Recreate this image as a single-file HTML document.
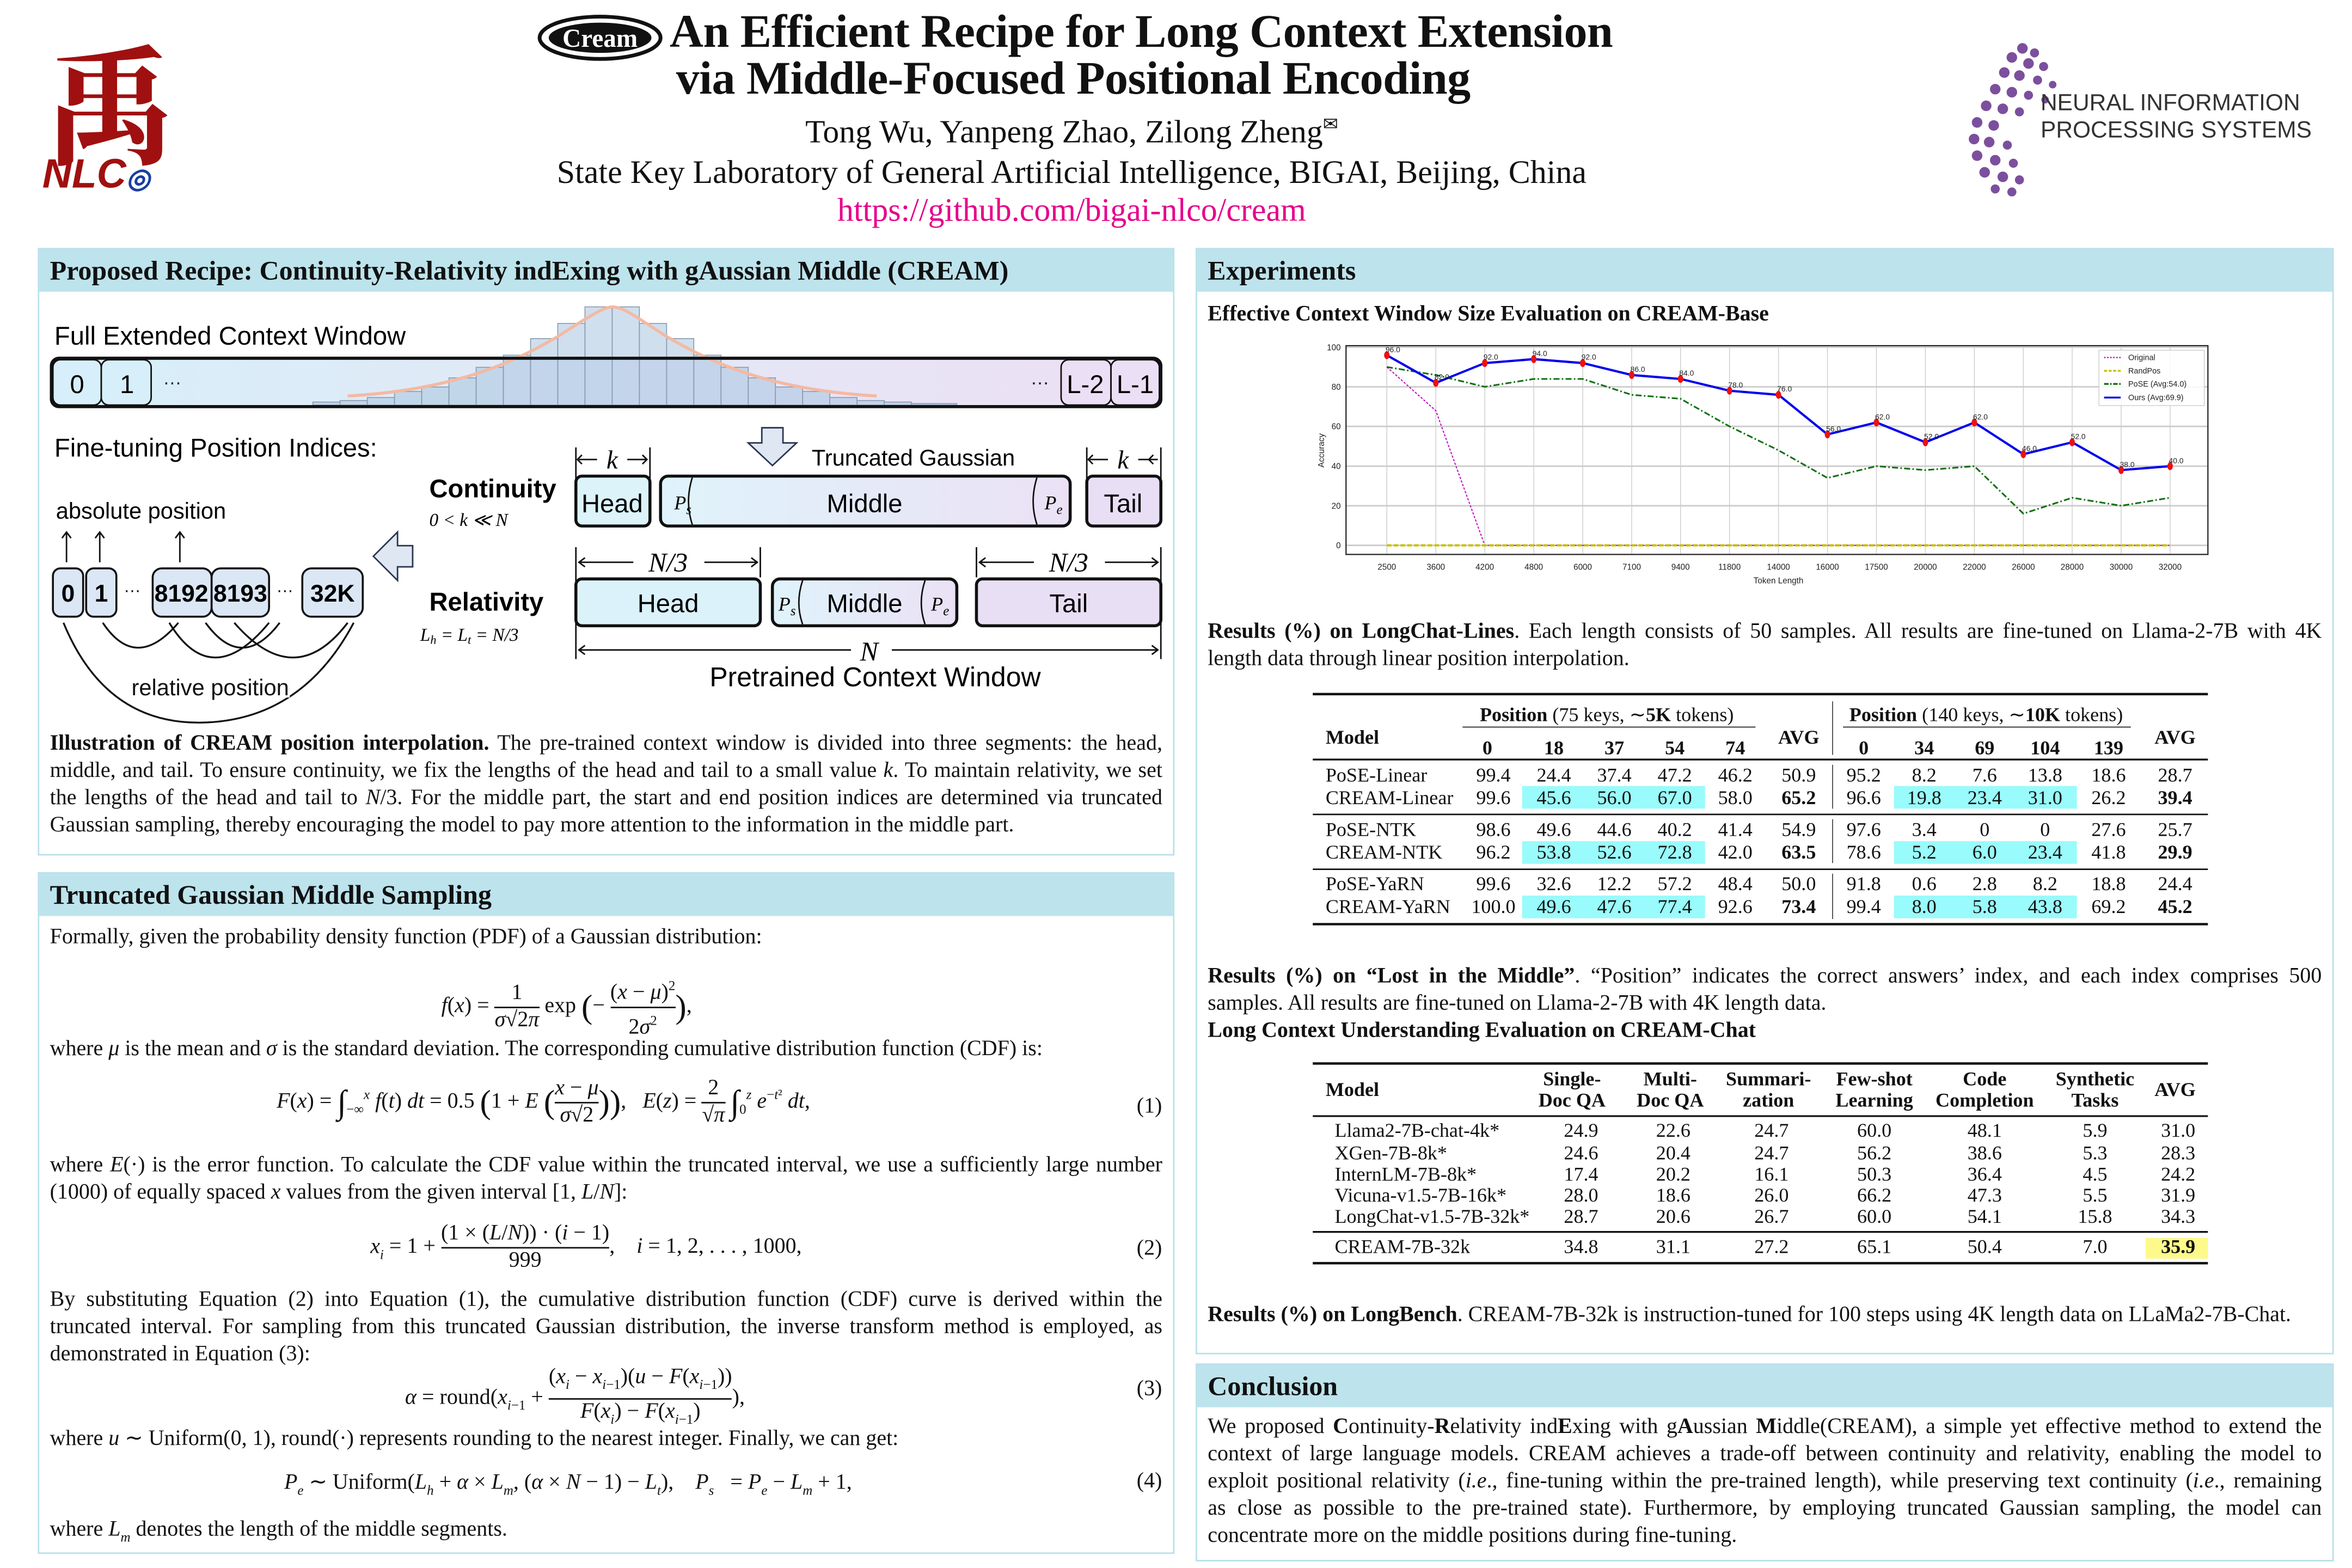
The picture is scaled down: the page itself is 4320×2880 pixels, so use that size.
<!DOCTYPE html>
<html><head><meta charset="utf-8">
<style>
html,body{margin:0;padding:0;background:#fff;}
body{width:4320px;height:2880px;overflow:hidden;position:relative;}
#p{position:absolute;left:0;top:0;width:1556px;height:1037px;transform:scale(2.7763);transform-origin:0 0;font-family:"Liberation Serif",serif;color:#111;}
.a{position:absolute;white-space:nowrap;}
.panel{position:absolute;border:1.2px solid #b9e0ea;box-sizing:border-box;}
.hd{position:absolute;left:0;right:0;top:0;height:28px;background:#bde3ec;font-weight:bold;font-size:18px;line-height:28px;padding-left:7px;}
.l{position:absolute;width:736px;font-size:14.4px;line-height:18px;height:18px;overflow:hidden;text-align:justify;text-align-last:justify;}
.ln{position:absolute;font-size:14.4px;line-height:18px;white-space:nowrap;}
.r{position:absolute;width:737px;font-size:14.4px;line-height:18px;height:18px;overflow:hidden;text-align:justify;text-align-last:justify;}
i{font-style:italic;}
.fr{display:inline-flex;flex-direction:column;vertical-align:middle;text-align:center;line-height:17px;}
.fr>span+span{border-top:1px solid #111;}
.eq{position:absolute;font-size:14.4px;white-space:nowrap;line-height:18px;}
.en{position:absolute;left:752px;font-size:14.4px;}
.t{position:absolute;font-size:13px;white-space:nowrap;transform:translateX(-50%);line-height:15px;}
.tl{position:absolute;font-size:13px;white-space:nowrap;line-height:15px;}
.big{font-size:22px;vertical-align:middle;}
</style></head><body><div id="p">

<!-- header -->
<div class="a" style="left:30px;top:20px;font-family:'Noto Serif CJK SC',serif;font-size:86px;color:#a01010;line-height:90px;font-weight:bold;">禹</div>
<div class="a" style="left:28px;top:100px;font-family:'Liberation Sans',sans-serif;font-size:27px;font-weight:bold;font-style:italic;color:#a01010;line-height:30px;">NLC<span style="color:#1a3fa0;font-size:18px;">◎</span></div>

<svg class="a" style="left:355px;top:8px" width="84" height="34" viewBox="0 0 84 34">
<ellipse cx="42" cy="17" rx="40" ry="14" fill="#fff" stroke="#111" stroke-width="2.5"/>
<ellipse cx="42" cy="17" rx="34" ry="10" fill="#111"/>
<text x="42" y="23" font-family="Liberation Serif" font-size="17" font-weight="bold" fill="#fff" text-anchor="middle">Cream</text>
</svg>
<div class="a" style="left:443px;top:3px;font-size:31px;font-weight:bold;line-height:36px;letter-spacing:-0.2px;">An Efficient Recipe for Long Context Extension</div>
<div class="a" style="left:0;width:1420px;top:34px;text-align:center;font-size:31px;font-weight:bold;line-height:36px;letter-spacing:-0.2px;">via Middle-Focused Positional Encoding</div>
<div class="a" style="left:0;width:1418px;top:69px;text-align:center;font-size:21.5px;line-height:26px;">Tong Wu, Yanpeng Zhao, Zilong Zheng<sup style="font-size:12px">&#x2709;</sup></div>
<div class="a" style="left:0;width:1418px;top:101px;text-align:center;font-size:21.6px;line-height:26px;">State Key Laboratory of General Artificial Intelligence, BIGAI, Beijing, China</div>
<div class="a" style="left:0;width:1418px;top:126px;text-align:center;font-size:21.6px;line-height:26px;color:#e6008a;">https://github.com/bigai-nlco/cream</div>

<svg class="a" style="left:1298px;top:26px" width="70" height="104">
<g fill="#7b4f9d">
<circle cx="40" cy="6" r="3.5"/><circle cx="48" cy="9" r="3"/><circle cx="33" cy="12" r="3.5"/><circle cx="44" cy="16" r="3.5"/><circle cx="54" cy="18" r="3"/><circle cx="28" cy="22" r="3.5"/><circle cx="38" cy="24" r="3.5"/><circle cx="50" cy="27" r="3"/><circle cx="60" cy="30" r="2.5"/><circle cx="22" cy="33" r="3.5"/><circle cx="33" cy="35" r="3.5"/><circle cx="44" cy="37" r="3"/><circle cx="55" cy="40" r="2.5"/><circle cx="16" cy="44" r="3.5"/><circle cx="27" cy="46" r="3.5"/><circle cx="38" cy="48" r="3"/><circle cx="10" cy="55" r="3.5"/><circle cx="21" cy="57" r="3.5"/><circle cx="8" cy="66" r="3.5"/><circle cx="18" cy="68" r="3.5"/><circle cx="30" cy="70" r="3"/><circle cx="10" cy="77" r="3.5"/><circle cx="22" cy="80" r="3.5"/><circle cx="34" cy="82" r="3"/><circle cx="15" cy="88" r="3.5"/><circle cx="27" cy="91" r="3.5"/><circle cx="38" cy="93" r="3"/><circle cx="22" cy="99" r="3"/><circle cx="33" cy="101" r="3"/>
</g></svg>
<div class="a" style="left:1350px;top:60px;font-family:'Liberation Sans',sans-serif;font-size:15.3px;line-height:18px;color:#333;">NEURAL INFORMATION<br>PROCESSING SYSTEMS</div>

<!-- left panel 1 -->
<div class="panel" style="left:25px;top:164px;width:752px;height:402px;"><div class="hd">Proposed Recipe: Continuity-Relativity indExing with gAussian Middle (CREAM)</div></div>

<svg class="a" style="left:0;top:0" width="800" height="480" font-family="Liberation Sans, sans-serif">
<defs>
<linearGradient id="g1" x1="0" x2="1"><stop offset="0" stop-color="#d6eff9"/><stop offset="0.5" stop-color="#e3e8f6"/><stop offset="1" stop-color="#ecdff4"/></linearGradient>
<linearGradient id="g2" x1="0" x2="1"><stop offset="0" stop-color="#dff3fb"/><stop offset="1" stop-color="#ebe1f5"/></linearGradient>
</defs>
<text x="36" y="228" font-size="17">Full Extended Context Window</text>
<rect x="34" y="237" width="734" height="32" rx="5" fill="url(#g1)" stroke="#111" stroke-width="2"/>
<g fill="#a9c4e0" fill-opacity="0.55" stroke="#8a9bb0" stroke-width="0.6">
<rect x="207" y="266" width="18" height="2"/><rect x="225" y="265" width="18" height="3"/><rect x="243" y="263" width="18" height="5"/><rect x="261" y="259" width="18" height="9"/><rect x="279" y="256" width="18" height="12"/><rect x="297" y="250" width="18" height="18"/><rect x="315" y="243" width="18" height="25"/><rect x="333" y="235" width="18" height="33"/><rect x="351" y="224" width="18" height="44"/><rect x="369" y="214" width="18" height="54"/><rect x="387" y="203" width="18" height="65"/><rect x="405" y="203" width="18" height="65"/><rect x="423" y="214" width="18" height="54"/><rect x="441" y="224" width="18" height="44"/><rect x="459" y="235" width="18" height="33"/><rect x="477" y="243" width="18" height="25"/><rect x="495" y="250" width="18" height="18"/><rect x="513" y="256" width="18" height="12"/><rect x="531" y="259" width="18" height="9"/><rect x="549" y="263" width="18" height="5"/><rect x="567" y="265" width="18" height="3"/><rect x="585" y="266" width="18" height="2"/><rect x="603" y="267" width="30" height="1"/>
</g>
<path d="M230 262 C300 258 340 240 370 222 C390 209 400 203 405 203 C412 203 420 209 440 222 C470 240 510 258 580 262" fill="none" stroke="#f4b9a2" stroke-width="2"/>
<rect x="34" y="237" width="734" height="32" rx="5" fill="none" stroke="#111" stroke-width="2"/>
<rect x="35" y="238" width="32" height="30" rx="5" fill="#d7effa" stroke="#111" stroke-width="1"/>
<rect x="67" y="238" width="33" height="30" rx="5" fill="#d7effa" stroke="#111" stroke-width="1"/>
<text x="51" y="260" font-size="17" text-anchor="middle">0</text><text x="84" y="260" font-size="17" text-anchor="middle">1</text>
<text x="108" y="257" font-size="12">···</text><text x="682" y="257" font-size="12">···</text>
<rect x="702" y="238" width="33" height="30" rx="5" fill="#ebdff5" stroke="#111" stroke-width="1"/>
<rect x="735" y="238" width="32" height="30" rx="5" fill="#ebdff5" stroke="#111" stroke-width="1"/>
<text x="718" y="260" font-size="17" text-anchor="middle">L-2</text><text x="751" y="260" font-size="17" text-anchor="middle">L-1</text>

<text x="36" y="302" font-size="17">Fine-tuning Position Indices:</text>
<path d="M504 283 h14 v10 h9 l-16 15 l-16 -15 h9 z" fill="#dfe7f3" stroke="#2a3550" stroke-width="1"/>
<text x="537" y="308" font-size="15">Truncated Gaussian</text>
<g stroke="#111" stroke-width="1" fill="none">
<path d="M381 296 v22 M430 296 v22 M719 296 v22 M768 296 v22"/>
<path d="M383 304 h12 M385 301 l-3 3 l3 3 M415 304 h13 M425 301 l3 3 l-3 3"/>
<path d="M721 304 h12 M723 301 l-3 3 l3 3 M753 304 h13 M763 301 l-3 3 l3 3"/>
</g>
<text x="405" y="310" font-size="17" font-style="italic" font-family="Liberation Serif" text-anchor="middle">k</text>
<text x="743" y="310" font-size="17" font-style="italic" font-family="Liberation Serif" text-anchor="middle">k</text>
<text x="284" y="329" font-size="17" font-weight="bold">Continuity</text>
<text x="284" y="348" font-size="12" font-style="italic" font-family="Liberation Serif">0 &lt; k ≪ N</text>
<rect x="381" y="315" width="49" height="33" rx="4" fill="#dcf3fa" stroke="#111" stroke-width="2"/>
<text x="405" y="339" font-size="17" text-anchor="middle">Head</text>
<rect x="437" y="315" width="271" height="33" rx="5" fill="url(#g2)" stroke="#111" stroke-width="2"/>
<path d="M458 316 q-5 16 0 31 M686 316 q-5 16 0 31" stroke="#111" fill="none"/>
<text x="446" y="337" font-size="13" font-style="italic" font-family="Liberation Serif">P<tspan font-size="9" dy="3">s</tspan></text>
<text x="691" y="337" font-size="13" font-style="italic" font-family="Liberation Serif">P<tspan font-size="9" dy="3">e</tspan></text>
<text x="572" y="339" font-size="17" text-anchor="middle">Middle</text>
<rect x="719" y="315" width="49" height="33" rx="4" fill="#e9dff5" stroke="#111" stroke-width="2"/>
<text x="743" y="339" font-size="17" text-anchor="middle">Tail</text>

<path d="M247 368 L263 352 V361 H273 V375 H263 V384 Z" fill="#dfe7f3" stroke="#2a3550" stroke-width="1"/>
<text x="37" y="343" font-size="15">absolute position</text>
<g stroke="#111" stroke-width="1" fill="none">
<path d="M44 372 v-20 M41 356 l3 -4 l3 4 M66 372 v-20 M63 356 l3 -4 l3 4 M119 372 v-20 M116 356 l3 -4 l3 4"/>
</g>
<g stroke="#111" stroke-width="1.3" fill="#dbe7f5">
<rect x="35" y="376" width="20" height="32" rx="5"/><rect x="57" y="376" width="20" height="32" rx="5"/>
<rect x="101" y="376" width="39" height="32" rx="6"/><rect x="140" y="376" width="38" height="32" rx="6"/>
<rect x="200" y="376" width="40" height="32" rx="6"/>
</g>
<g font-size="16" font-weight="bold" text-anchor="middle">
<text x="45" y="398">0</text><text x="67" y="398">1</text><text x="120" y="398">8192</text><text x="159" y="398">8193</text><text x="220" y="398">32K</text>
</g>
<text x="82" y="394" font-size="11">···</text><text x="183" y="394" font-size="11">···</text>
<g stroke="#111" stroke-width="1.2" fill="none">
<path d="M68 412 Q90 445 118 412"/><path d="M112 412 Q140 458 178 412"/><path d="M136 412 Q160 445 185 412"/><path d="M155 412 Q195 458 230 412"/><path d="M42 412 Q70 480 135 478 Q200 476 234 412"/>
</g>
<text x="87" y="460" font-size="15" fill="#111" stroke="#fff" stroke-width="3" paint-order="stroke">relative position</text>

<text x="284" y="404" font-size="17" font-weight="bold">Relativity</text>
<text x="278" y="424" font-size="12" font-style="italic" font-family="Liberation Serif">L<tspan font-size="8" dy="2">h</tspan><tspan dy="-2"> = L</tspan><tspan font-size="8" dy="2">t</tspan><tspan dy="-2"> = N/3</tspan></text>
<g stroke="#111" stroke-width="1" fill="none">
<path d="M381 362 v74 M503 362 v20 M646 362 v20 M768 362 v74"/>
<path d="M383 372 h36 M387 369 l-4 3 l4 3 M466 372 h35 M497 369 l4 3 l-4 3"/>
<path d="M648 372 h36 M652 369 l-4 3 l4 3 M731 372 h35 M762 369 l4 3 l-4 3"/>
<path d="M383 430 h180 M387 427 l-4 3 l4 3 M590 430 h176 M762 427 l4 3 l-4 3"/>
</g>
<text x="442" y="378" font-size="18" font-style="italic" font-family="Liberation Serif" text-anchor="middle">N/3</text>
<text x="707" y="378" font-size="18" font-style="italic" font-family="Liberation Serif" text-anchor="middle">N/3</text>
<text x="575" y="437" font-size="18" font-style="italic" font-family="Liberation Serif" text-anchor="middle">N</text>
<rect x="381" y="383" width="122" height="31" rx="4" fill="#dcf2fa" stroke="#111" stroke-width="2"/>
<text x="442" y="405" font-size="17" text-anchor="middle">Head</text>
<rect x="511" y="383" width="122" height="31" rx="5" fill="url(#g2)" stroke="#111" stroke-width="2"/>
<path d="M531 384 q-5 15 0 29 M612 384 q-5 15 0 29" stroke="#111" fill="none"/>
<text x="515" y="404" font-size="13" font-style="italic" font-family="Liberation Serif">P<tspan font-size="9" dy="3">s</tspan></text>
<text x="616" y="404" font-size="13" font-style="italic" font-family="Liberation Serif">P<tspan font-size="9" dy="3">e</tspan></text>
<text x="572" y="405" font-size="17" text-anchor="middle">Middle</text>
<rect x="646" y="383" width="122" height="31" rx="4" fill="#e9dff5" stroke="#111" stroke-width="2"/>
<text x="707" y="405" font-size="17" text-anchor="middle">Tail</text>
<text x="579" y="454" font-size="18" text-anchor="middle">Pretrained Context Window</text>
</svg>

<div class="l" style="left:33px;top:483px;"><b>Illustration of CREAM position interpolation.</b> The pre-trained context window is divided into three segments: the head,</div>
<div class="l" style="left:33px;top:501px;">middle, and tail. To ensure continuity, we fix the lengths of the head and tail to a small value <i>k</i>. To maintain relativity, we set</div>
<div class="l" style="left:33px;top:519px;">the lengths of the head and tail to <i>N</i>/3. For the middle part, the start and end position indices are determined via truncated</div>
<div class="ln" style="left:33px;top:537px;">Gaussian sampling, thereby encouraging the model to pay more attention to the information in the middle part.</div>

<!-- left panel 2 -->
<div class="panel" style="left:25px;top:577px;width:752px;height:451px;"><div class="hd">Truncated Gaussian Middle Sampling</div></div>
<div class="ln" style="left:33px;top:611px;">Formally, given the probability density function (PDF) of a Gaussian distribution:</div>
<div class="eq" style="left:292px;top:644px;"><i>f</i>(<i>x</i>) = <span class="fr"><span>1</span><span><i>σ</i>√2<i>π</i></span></span> exp <span class="big">(</span>− <span class="fr"><span>(<i>x</i> − <i>μ</i>)<sup style="font-size:9px">2</sup></span><span>2<i>σ</i><sup style="font-size:9px">2</sup></span></span><span class="big">)</span>,</div>
<div class="ln" style="left:33px;top:685px;">where <i>μ</i> is the mean and <i>σ</i> is the standard deviation. The corresponding cumulative distribution function (CDF) is:</div>
<div class="eq" style="left:183px;top:712px;"><i>F</i>(<i>x</i>) = <span class="big">∫</span><sub style="font-size:9px">−∞</sub><sup style="font-size:9px"><i>x</i></sup> <i>f</i>(<i>t</i>) <i>dt</i> = 0.5 <span class="big">(</span>1 + <i>E</i> <span class="big">(</span><span class="fr"><span><i>x</i> − <i>μ</i></span><span><i>σ</i>√2</span></span><span class="big">))</span>, &nbsp; <i>E</i>(<i>z</i>) = <span class="fr"><span>2</span><span>√<i>π</i></span></span> <span class="big">∫</span><sub style="font-size:9px">0</sub><sup style="font-size:9px"><i>z</i></sup> <i>e</i><sup style="font-size:9px">−<i>t</i>²</sup> <i>dt</i>,</div>
<div class="en" style="top:724px;">(1)</div>
<div class="l" style="left:33px;top:762px;">where <i>E</i>(·) is the error function. To calculate the CDF value within the truncated interval, we use a sufficiently large number</div>
<div class="ln" style="left:33px;top:780px;">(1000) of equally spaced <i>x</i> values from the given interval [1, <i>L</i>/<i>N</i>]:</div>
<div class="eq" style="left:245px;top:808px;"><i>x<sub style="font-size:9px">i</sub></i> = 1 + <span class="fr"><span>(1 × (<i>L</i>/<i>N</i>)) · (<i>i</i> − 1)</span><span>999</span></span>, &nbsp;&nbsp; <i>i</i> = 1, 2, . . . , 1000,</div>
<div class="en" style="top:818px;">(2)</div>
<div class="l" style="left:33px;top:851px;">By substituting Equation (2) into Equation (1), the cumulative distribution function (CDF) curve is derived within the</div>
<div class="l" style="left:33px;top:869px;">truncated interval. For sampling from this truncated Gaussian distribution, the inverse transform method is employed, as</div>
<div class="ln" style="left:33px;top:887px;">demonstrated in Equation (3):</div>
<div class="eq" style="left:268px;top:903px;"><i>α</i> = round(<i>x</i><sub style="font-size:9px"><i>i</i>−1</sub> + <span class="fr"><span>(<i>x<sub style="font-size:9px">i</sub></i> − <i>x</i><sub style="font-size:9px"><i>i</i>−1</sub>)(<i>u</i> − <i>F</i>(<i>x</i><sub style="font-size:9px"><i>i</i>−1</sub>))</span><span><i>F</i>(<i>x<sub style="font-size:9px">i</sub></i>) − <i>F</i>(<i>x</i><sub style="font-size:9px"><i>i</i>−1</sub>)</span></span>),</div>
<div class="en" style="top:911px;">(3)</div>
<div class="ln" style="left:33px;top:943px;">where <i>u</i> ∼ Uniform(0, 1), round(·) represents rounding to the nearest integer. Finally, we can get:</div>
<div class="eq" style="left:188px;top:972px;"><i>P<sub style="font-size:9px">e</sub></i> ∼ Uniform(<i>L<sub style="font-size:9px">h</sub></i> + <i>α</i> × <i>L<sub style="font-size:9px">m</sub></i>, (<i>α</i> × <i>N</i> − 1) − <i>L<sub style="font-size:9px">t</sub></i>), &nbsp;&nbsp; <i>P<sub style="font-size:9px">s</sub></i> &nbsp; = <i>P<sub style="font-size:9px">e</sub></i> − <i>L<sub style="font-size:9px">m</sub></i> + 1,</div>
<div class="en" style="top:972px;">(4)</div>
<div class="ln" style="left:33px;top:1003px;">where <i>L<sub style="font-size:9px">m</sub></i> denotes the length of the middle segments.</div>

<!-- right panel -->
<div class="panel" style="left:791px;top:164px;width:753px;height:732px;"><div class="hd">Experiments</div></div>
<div class="ln" style="left:799px;top:199px;font-weight:bold;">Effective Context Window Size Evaluation on CREAM-Base</div>

<svg class="a" style="left:0;top:0" width="1556" height="400" font-family="Liberation Sans, sans-serif">
<g stroke="#ccc" stroke-width="0.5">
<path d="M917.5 229 V367 M949.9 229 V367 M982.3 229 V367 M1014.7 229 V367 M1047.1 229 V367 M1079.5 229 V367 M1111.8 229 V367 M1144.2 229 V367 M1176.6 229 V367 M1209 229 V367 M1241.4 229 V367 M1273.8 229 V367 M1306.2 229 V367 M1338.6 229 V367 M1370.9 229 V367 M1403.3 229 V367 M1435.7 229 V367"/>
</g>
<g stroke="#ccc" stroke-width="1">
<path d="M890.5 360.8 H1460.7 M890.5 334.6 H1460.7 M890.5 308.4 H1460.7 M890.5 282.1 H1460.7 M890.5 255.9 H1460.7 M890.5 229.7 H1460.7"/>
</g>
<rect x="890.5" y="228.7" width="570.2" height="138.1" fill="none" stroke="#222" stroke-width="0.8"/>
<g font-size="5.5" text-anchor="end" fill="#222">
<text x="887" y="362.8">0</text><text x="887" y="336.6">20</text><text x="887" y="310.4">40</text><text x="887" y="284.1">60</text><text x="887" y="257.9">80</text><text x="887" y="231.7">100</text>
</g>
<g font-size="5.5" text-anchor="middle" fill="#222">
<text x="917.5" y="377">2500</text><text x="949.9" y="377">3600</text><text x="982.3" y="377">4200</text><text x="1014.7" y="377">4800</text><text x="1047.1" y="377">6000</text><text x="1079.5" y="377">7100</text><text x="1111.8" y="377">9400</text><text x="1144.2" y="377">11800</text><text x="1176.6" y="377">14000</text><text x="1209" y="377">16000</text><text x="1241.4" y="377">17500</text><text x="1273.8" y="377">20000</text><text x="1306.2" y="377">22000</text><text x="1338.6" y="377">26000</text><text x="1370.9" y="377">28000</text><text x="1403.3" y="377">30000</text><text x="1435.7" y="377">32000</text>
<text x="1176.6" y="386">Token Length</text>
<text x="0" y="0" transform="translate(876 298) rotate(-90)">Accuracy</text>
</g>
<polyline fill="none" stroke="#c000c0" stroke-width="0.7" stroke-dasharray="1.5 1" points="917.5,242.8 949.9,271.7 982.3,360.8 1435.7,360.8"/>
<polyline fill="none" stroke="#c8c000" stroke-width="1.5" stroke-dasharray="3 1.5" points="917.5,360.8 1435.7,360.8"/>
<polyline fill="none" stroke="#107010" stroke-width="1.1" stroke-dasharray="4 1.5 1 1.5" points="917.5,242.8 949.9,248.1 982.3,255.9 1014.7,250.7 1047.1,250.7 1079.5,261.2 1111.8,263.8 1144.2,282.1 1176.6,297.9 1209,316.2 1241.4,308.4 1273.8,311 1306.2,308.4 1338.6,339.8 1370.9,329.3 1403.3,334.6 1435.7,329.3"/>
<polyline fill="none" stroke="#0000ee" stroke-width="1.5" points="917.5,235 949.9,253.3 982.3,240.2 1014.7,237.6 1047.1,240.2 1079.5,248.1 1111.8,250.7 1144.2,258.5 1176.6,261.2 1209,287.4 1241.4,279.5 1273.8,292.6 1306.2,279.5 1338.6,300.5 1370.9,292.6 1403.3,311 1435.7,308.4"/>
<g fill="#ee1111">
<ellipse cx="917.5" cy="235" rx="1.8" ry="2.6"/><ellipse cx="949.9" cy="253.3" rx="1.8" ry="2.6"/><ellipse cx="982.3" cy="240.2" rx="1.8" ry="2.6"/><ellipse cx="1014.7" cy="237.6" rx="1.8" ry="2.6"/><ellipse cx="1047.1" cy="240.2" rx="1.8" ry="2.6"/><ellipse cx="1079.5" cy="248.1" rx="1.8" ry="2.6"/><ellipse cx="1111.8" cy="250.7" rx="1.8" ry="2.6"/><ellipse cx="1144.2" cy="258.5" rx="1.8" ry="2.6"/><ellipse cx="1176.6" cy="261.2" rx="1.8" ry="2.6"/><ellipse cx="1209" cy="287.4" rx="1.8" ry="2.6"/><ellipse cx="1241.4" cy="279.5" rx="1.8" ry="2.6"/><ellipse cx="1273.8" cy="292.6" rx="1.8" ry="2.6"/><ellipse cx="1306.2" cy="279.5" rx="1.8" ry="2.6"/><ellipse cx="1338.6" cy="300.5" rx="1.8" ry="2.6"/><ellipse cx="1370.9" cy="292.6" rx="1.8" ry="2.6"/><ellipse cx="1403.3" cy="311" rx="1.8" ry="2.6"/><ellipse cx="1435.7" cy="308.4" rx="1.8" ry="2.6"/>
</g>
<g font-size="5" text-anchor="middle" fill="#222">
<text x="921.5" y="233">96.0</text><text x="953.9" y="251">82.0</text><text x="986.3" y="238">92.0</text><text x="1018.7" y="235.5">94.0</text><text x="1051.1" y="238">92.0</text><text x="1083.5" y="246">86.0</text><text x="1115.8" y="248.5">84.0</text><text x="1148.2" y="256.5">78.0</text><text x="1180.6" y="259">76.0</text><text x="1213" y="285.5">56.0</text><text x="1245.4" y="277.5">62.0</text><text x="1277.8" y="290.5">52.0</text><text x="1310.2" y="277.5">62.0</text><text x="1342.6" y="298.5">46.0</text><text x="1374.9" y="290.5">52.0</text><text x="1407.3" y="309">38.0</text><text x="1439.7" y="306.5">40.0</text>
</g>
<rect x="1388.6" y="231.7" width="69.7" height="36.6" fill="#fff" fill-opacity="0.85" stroke="#ccc" stroke-width="0.5"/>
<g font-size="5.2" fill="#222">
<path d="M1392 236.5 h11" stroke="#c000c0" stroke-dasharray="1 1" stroke-width="0.8"/><text x="1408" y="238.3">Original</text>
<path d="M1392 245.3 h11" stroke="#c8c000" stroke-dasharray="2 1" stroke-width="1.2"/><text x="1408" y="247.1">RandPos</text>
<path d="M1392 254 h11" stroke="#107010" stroke-dasharray="3 1 1 1" stroke-width="1.2"/><text x="1408" y="255.8">PoSE (Avg:54.0)</text>
<path d="M1392 263 h11" stroke="#0000ee" stroke-width="1.2"/><text x="1408" y="264.8">Ours (Avg:69.9)</text>
</g>
</svg>

<div class="r" style="left:799px;top:409px;"><b>Results (%) on LongChat-Lines</b>. Each length consists of 50 samples. All results are fine-tuned on Llama-2-7B with 4K</div>
<div class="ln" style="left:799px;top:427px;">length data through linear position interpolation.</div>

<svg class="a" style="left:0;top:0" width="1556" height="640">
<g fill="#99fbfb">
<rect x="1007" y="520" width="121" height="15"/><rect x="1253" y="520" width="121" height="15"/>
<rect x="1007" y="556.5" width="121" height="15"/><rect x="1253" y="556.5" width="121" height="15"/>
<rect x="1007" y="592.5" width="121" height="15"/><rect x="1253" y="592.5" width="121" height="15"/>
</g>
<g stroke="#111">
<path d="M868.5 459.2 H1460.7" stroke-width="1.6"/><path d="M868.5 502.5 H1460.7" stroke-width="1.2"/>
<path d="M868.5 538.8 H1460.7" stroke-width="1"/><path d="M868.5 575.1 H1460.7" stroke-width="1"/>
<path d="M868.5 611.4 H1460.7" stroke-width="1.6"/>
<path d="M967.6 481 H1161.4 M1219.3 481 H1409.7" stroke-width="0.6"/>
<path d="M1212.4 464 V499.4 M1212.4 506 V535 M1212.4 542 V571 M1212.4 578 V608" stroke-width="0.5"/>
</g>
</svg>
<div class="t" style="left:1063px;top:465px;"><b>Position</b> (75 keys, ∼<b>5K</b> tokens)</div>
<div class="t" style="left:1314px;top:465px;"><b>Position</b> (140 keys, ∼<b>10K</b> tokens)</div>
<div class="tl" style="left:877px;top:480px;font-weight:bold;">Model</div>
<div class="t" style="left:1190px;top:480px;font-weight:bold;">AVG</div><div class="t" style="left:1439px;top:480px;font-weight:bold;">AVG</div>
<div style="font-weight:bold">
<div class="t" style="left:984px;top:487px;">0</div><div class="t" style="left:1028px;top:487px;">18</div><div class="t" style="left:1068px;top:487px;">37</div><div class="t" style="left:1108px;top:487px;">54</div><div class="t" style="left:1148px;top:487px;">74</div>
<div class="t" style="left:1233px;top:487px;">0</div><div class="t" style="left:1273px;top:487px;">34</div><div class="t" style="left:1313px;top:487px;">69</div><div class="t" style="left:1353px;top:487px;">104</div><div class="t" style="left:1395px;top:487px;">139</div>
</div>
<div class="tl" style="left:877px;top:505px;">PoSE-Linear</div><div class="tl" style="left:877px;top:520px;">CREAM-Linear</div>
<div class="tl" style="left:877px;top:541px;">PoSE-NTK</div><div class="tl" style="left:877px;top:556px;">CREAM-NTK</div>
<div class="tl" style="left:877px;top:577px;">PoSE-YaRN</div><div class="tl" style="left:877px;top:592px;">CREAM-YaRN</div>

<div class="t" style="left:988px;top:505px;">99.4</div><div class="t" style="left:1028px;top:505px;">24.4</div><div class="t" style="left:1068px;top:505px;">37.4</div><div class="t" style="left:1108px;top:505px;">47.2</div><div class="t" style="left:1148px;top:505px;">46.2</div><div class="t" style="left:1190px;top:505px;">50.9</div><div class="t" style="left:1233px;top:505px;">95.2</div><div class="t" style="left:1273px;top:505px;">8.2</div><div class="t" style="left:1313px;top:505px;">7.6</div><div class="t" style="left:1353px;top:505px;">13.8</div><div class="t" style="left:1395px;top:505px;">18.6</div><div class="t" style="left:1439px;top:505px;">28.7</div>
<div class="t" style="left:988px;top:520px;">99.6</div><div class="t" style="left:1028px;top:520px;">45.6</div><div class="t" style="left:1068px;top:520px;">56.0</div><div class="t" style="left:1108px;top:520px;">67.0</div><div class="t" style="left:1148px;top:520px;">58.0</div><div class="t" style="left:1190px;top:520px;font-weight:bold;">65.2</div><div class="t" style="left:1233px;top:520px;">96.6</div><div class="t" style="left:1273px;top:520px;">19.8</div><div class="t" style="left:1313px;top:520px;">23.4</div><div class="t" style="left:1353px;top:520px;">31.0</div><div class="t" style="left:1395px;top:520px;">26.2</div><div class="t" style="left:1439px;top:520px;font-weight:bold;">39.4</div>
<div class="t" style="left:988px;top:541px;">98.6</div><div class="t" style="left:1028px;top:541px;">49.6</div><div class="t" style="left:1068px;top:541px;">44.6</div><div class="t" style="left:1108px;top:541px;">40.2</div><div class="t" style="left:1148px;top:541px;">41.4</div><div class="t" style="left:1190px;top:541px;">54.9</div><div class="t" style="left:1233px;top:541px;">97.6</div><div class="t" style="left:1273px;top:541px;">3.4</div><div class="t" style="left:1313px;top:541px;">0</div><div class="t" style="left:1353px;top:541px;">0</div><div class="t" style="left:1395px;top:541px;">27.6</div><div class="t" style="left:1439px;top:541px;">25.7</div>
<div class="t" style="left:988px;top:556px;">96.2</div><div class="t" style="left:1028px;top:556px;">53.8</div><div class="t" style="left:1068px;top:556px;">52.6</div><div class="t" style="left:1108px;top:556px;">72.8</div><div class="t" style="left:1148px;top:556px;">42.0</div><div class="t" style="left:1190px;top:556px;font-weight:bold;">63.5</div><div class="t" style="left:1233px;top:556px;">78.6</div><div class="t" style="left:1273px;top:556px;">5.2</div><div class="t" style="left:1313px;top:556px;">6.0</div><div class="t" style="left:1353px;top:556px;">23.4</div><div class="t" style="left:1395px;top:556px;">41.8</div><div class="t" style="left:1439px;top:556px;font-weight:bold;">29.9</div>
<div class="t" style="left:988px;top:577px;">99.6</div><div class="t" style="left:1028px;top:577px;">32.6</div><div class="t" style="left:1068px;top:577px;">12.2</div><div class="t" style="left:1108px;top:577px;">57.2</div><div class="t" style="left:1148px;top:577px;">48.4</div><div class="t" style="left:1190px;top:577px;">50.0</div><div class="t" style="left:1233px;top:577px;">91.8</div><div class="t" style="left:1273px;top:577px;">0.6</div><div class="t" style="left:1313px;top:577px;">2.8</div><div class="t" style="left:1353px;top:577px;">8.2</div><div class="t" style="left:1395px;top:577px;">18.8</div><div class="t" style="left:1439px;top:577px;">24.4</div>
<div class="t" style="left:988px;top:592px;">100.0</div><div class="t" style="left:1028px;top:592px;">49.6</div><div class="t" style="left:1068px;top:592px;">47.6</div><div class="t" style="left:1108px;top:592px;">77.4</div><div class="t" style="left:1148px;top:592px;">92.6</div><div class="t" style="left:1190px;top:592px;font-weight:bold;">73.4</div><div class="t" style="left:1233px;top:592px;">99.4</div><div class="t" style="left:1273px;top:592px;">8.0</div><div class="t" style="left:1313px;top:592px;">5.8</div><div class="t" style="left:1353px;top:592px;">43.8</div><div class="t" style="left:1395px;top:592px;">69.2</div><div class="t" style="left:1439px;top:592px;font-weight:bold;">45.2</div>

<div class="r" style="left:799px;top:637px;"><b>Results (%) on “Lost in the Middle”</b>. “Position” indicates the correct answers’ index, and each index comprises 500</div>
<div class="ln" style="left:799px;top:655px;">samples. All results are fine-tuned on Llama-2-7B with 4K length data.</div>
<div class="ln" style="left:799px;top:673px;font-weight:bold;">Long Context Understanding Evaluation on CREAM-Chat</div>

<svg class="a" style="left:0;top:0" width="1556" height="860">
<rect x="1419.5" y="818.9" width="41.2" height="13.8" fill="#fdf98a"/>
<g stroke="#111">
<path d="M868.5 703.6 H1460.7" stroke-width="1.6"/><path d="M868.5 738.4 H1460.7" stroke-width="1.2"/>
<path d="M868.5 815 H1460.7" stroke-width="1.2"/><path d="M868.5 835.7 H1460.7" stroke-width="1.6"/>
</g>
</svg>
<div style="font-weight:bold">
<div class="tl" style="left:877px;top:713px;">Model</div>
<div class="t" style="left:1040px;top:706px;">Single-</div><div class="t" style="left:1040px;top:720px;">Doc QA</div>
<div class="t" style="left:1105px;top:706px;">Multi-</div><div class="t" style="left:1105px;top:720px;">Doc QA</div>
<div class="t" style="left:1170px;top:706px;">Summari-</div><div class="t" style="left:1170px;top:720px;">zation</div>
<div class="t" style="left:1240px;top:706px;">Few-shot</div><div class="t" style="left:1240px;top:720px;">Learning</div>
<div class="t" style="left:1313px;top:706px;">Code</div><div class="t" style="left:1313px;top:720px;">Completion</div>
<div class="t" style="left:1386px;top:706px;">Synthetic</div><div class="t" style="left:1386px;top:720px;">Tasks</div>
<div class="t" style="left:1439px;top:713px;">AVG</div>
</div>
<div class="tl" style="left:883px;top:740px;">Llama2-7B-chat-4k*</div>
<div class="tl" style="left:883px;top:755px;">XGen-7B-8k*</div>
<div class="tl" style="left:883px;top:769px;">InternLM-7B-8k*</div>
<div class="tl" style="left:883px;top:783px;">Vicuna-v1.5-7B-16k*</div>
<div class="tl" style="left:883px;top:797px;">LongChat-v1.5-7B-32k*</div>
<div class="tl" style="left:883px;top:817px;">CREAM-7B-32k</div>
<div class="t" style="left:1046px;top:740px;">24.9</div><div class="t" style="left:1107px;top:740px;">22.6</div><div class="t" style="left:1172px;top:740px;">24.7</div><div class="t" style="left:1240px;top:740px;">60.0</div><div class="t" style="left:1313px;top:740px;">48.1</div><div class="t" style="left:1386px;top:740px;">5.9</div><div class="t" style="left:1441px;top:740px;">31.0</div>
<div class="t" style="left:1046px;top:755px;">24.6</div><div class="t" style="left:1107px;top:755px;">20.4</div><div class="t" style="left:1172px;top:755px;">24.7</div><div class="t" style="left:1240px;top:755px;">56.2</div><div class="t" style="left:1313px;top:755px;">38.6</div><div class="t" style="left:1386px;top:755px;">5.3</div><div class="t" style="left:1441px;top:755px;">28.3</div>
<div class="t" style="left:1046px;top:769px;">17.4</div><div class="t" style="left:1107px;top:769px;">20.2</div><div class="t" style="left:1172px;top:769px;">16.1</div><div class="t" style="left:1240px;top:769px;">50.3</div><div class="t" style="left:1313px;top:769px;">36.4</div><div class="t" style="left:1386px;top:769px;">4.5</div><div class="t" style="left:1441px;top:769px;">24.2</div>
<div class="t" style="left:1046px;top:783px;">28.0</div><div class="t" style="left:1107px;top:783px;">18.6</div><div class="t" style="left:1172px;top:783px;">26.0</div><div class="t" style="left:1240px;top:783px;">66.2</div><div class="t" style="left:1313px;top:783px;">47.3</div><div class="t" style="left:1386px;top:783px;">5.5</div><div class="t" style="left:1441px;top:783px;">31.9</div>
<div class="t" style="left:1046px;top:797px;">28.7</div><div class="t" style="left:1107px;top:797px;">20.6</div><div class="t" style="left:1172px;top:797px;">26.7</div><div class="t" style="left:1240px;top:797px;">60.0</div><div class="t" style="left:1313px;top:797px;">54.1</div><div class="t" style="left:1386px;top:797px;">15.8</div><div class="t" style="left:1441px;top:797px;">34.3</div>
<div class="t" style="left:1046px;top:817px;">34.8</div><div class="t" style="left:1107px;top:817px;">31.1</div><div class="t" style="left:1172px;top:817px;">27.2</div><div class="t" style="left:1240px;top:817px;">65.1</div><div class="t" style="left:1313px;top:817px;">50.4</div><div class="t" style="left:1386px;top:817px;">7.0</div><div class="t" style="left:1441px;top:817px;font-weight:bold;">35.9</div>

<div class="ln" style="left:799px;top:861px;"><b>Results (%) on LongBench</b>. CREAM-7B-32k is instruction-tuned for 100 steps using 4K length data on LLaMa2-7B-Chat.</div>

<div class="panel" style="left:791px;top:902px;width:753px;height:131px;"><div class="hd">Conclusion</div></div>
<div class="r" style="left:799px;top:935px;">We proposed <b>C</b>ontinuity-<b>R</b>elativity ind<b>E</b>xing with g<b>A</b>ussian <b>M</b>iddle(CREAM), a simple yet effective method to extend the</div>
<div class="r" style="left:799px;top:953px;">context of large language models. CREAM achieves a trade-off between continuity and relativity, enabling the model to</div>
<div class="r" style="left:799px;top:971px;">exploit positional relativity (<i>i.e</i>., fine-tuning within the pre-trained length), while preserving text continuity (<i>i.e</i>., remaining</div>
<div class="r" style="left:799px;top:989px;">as close as possible to the pre-trained state). Furthermore, by employing truncated Gaussian sampling, the model can</div>
<div class="ln" style="left:799px;top:1007px;">concentrate more on the middle positions during fine-tuning.</div>

</div></body></html>
